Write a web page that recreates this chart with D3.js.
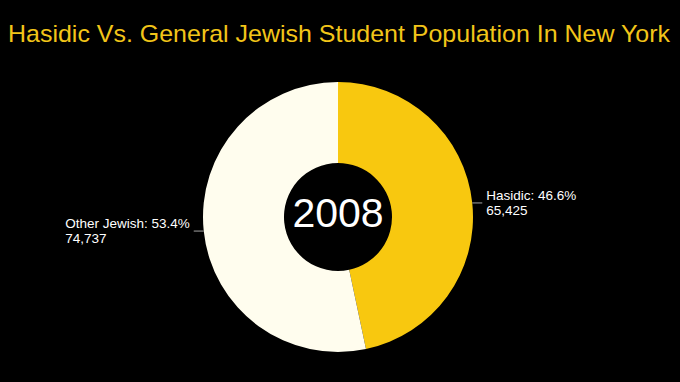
<!DOCTYPE html>
<html>
  <head>
    <meta charset="utf-8">
    <title>Hasidic vs General Jewish Student Population</title>
    <script src="https://cdn.jsdelivr.net/npm/d3@7"></script>
    <style>
      html, body { margin: 0; padding: 0; background: #000; }
      svg { display: block; font-family: "Liberation Sans", Arial, sans-serif; }
    </style>
  </head>
  <body>
    <div class="box"></div>
    <script>
      // data
      var year = "2008";
      var groups = ["Hasidic", "Other Jewish"];
      var students = [65425, 74737];
      var percents = ["46.6%", "53.4%"];
      var colors = ["#f8c80f", "#fffdee"];

      var width = 680, height = 382;
      var cx = 338, cy = 217, outerR = 135, innerR = 54;

      var svg = d3.select(".box").append("svg")
        .attr("width", width)
        .attr("height", height);

      svg.append("rect").attr("width", width).attr("height", height).attr("fill", "#000");

      //title
      svg.append("text")
        .attr("x", 8)
        .attr("y", 42)
        .attr("fill", "#f2c519")
        .attr("font-size", "24px")
        .attr("textLength", 662)
        .attr("lengthAdjust", "spacingAndGlyphs")
        .text("Hasidic Vs. General Jewish Student Population In New York");

      var pie = d3.pie().sort(null).value(function(d){ return d; });
      var arc = d3.arc().innerRadius(innerR).outerRadius(outerR);
      var arcs = pie(students);

      var g = svg.append("g").attr("transform", "translate(" + cx + "," + cy + ")");

      g.selectAll("path.slice")
        .data(arcs)
        .enter().append("path")
        .attr("class", "slice")
        .attr("d", arc)
        .attr("fill", function(d, i){ return colors[i]; });

      // center label
      g.append("text")
        .attr("y", 10)
        .attr("text-anchor", "middle")
        .attr("fill", "#fff")
        .attr("font-size", "41px")
        .text(year);

      // leader lines + labels
      arcs.forEach(function(d, i){
        var mid = (d.startAngle + d.endAngle) / 2;
        var px = Math.sin(mid) * outerR, py = -Math.cos(mid) * outerR;
        var right = px > 0;
        var ex = px + (right ? 10 : -10);

        g.append("line")
          .attr("x1", px).attr("y1", py)
          .attr("x2", ex).attr("y2", py)
          .attr("stroke", "#8a8a8a")
          .attr("stroke-width", 1.2);

        var t = g.append("text")
          .attr("fill", "#fff")
          .attr("font-size", "13.5px");
        var l1 = t.append("tspan").attr("y", py - 3).text(groups[i] + ": " + percents[i]);
        var l2 = t.append("tspan").attr("y", py + 12).text(d3.format(",")(students[i]));

        var w = Math.max(l1.node().getComputedTextLength(), l2.node().getComputedTextLength());
        var tx = right ? ex + 4 : ex - 4 - w;
        l1.attr("x", tx);
        l2.attr("x", tx);
      });
    </script>
  </body>
</html>
